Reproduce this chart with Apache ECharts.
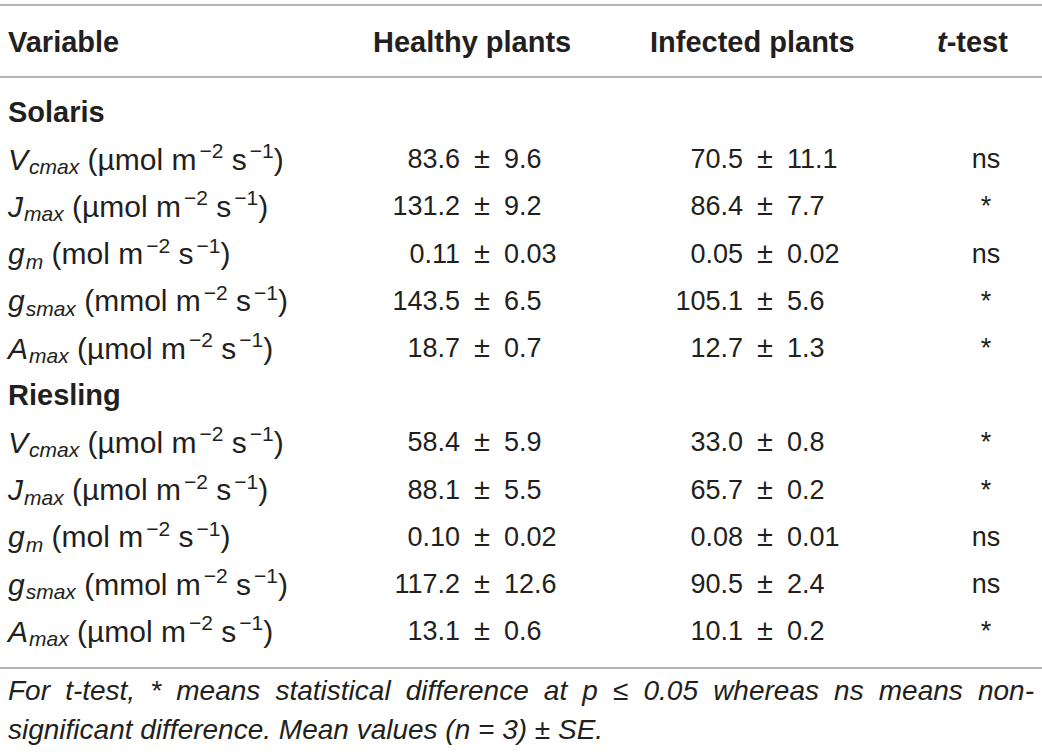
<!DOCTYPE html>
<html>
<head>
<meta charset="utf-8">
<script src="https://cdn.jsdelivr.net/npm/echarts@6/dist/echarts.min.js"></script>
<style>
  html, body { margin: 0; background: #fff; }
  #main { width: 1042px; height: 754px; }
</style>
</head>
<body>
<div id="main"></div>
<script>
// table content
const headers = ['Variable', 'Healthy plants', 'Infected plants', 't-test']
const groups = ['Solaris', 'Riesling']
const varSymbols = ['V', 'J', 'g', 'g', 'A']
const varSubs = ['cmax', 'max', 'm', 'smax', 'max']
const varUnits = ['µmol', 'µmol', 'mol', 'mmol', 'µmol']
const decimals = [1, 1, 2, 1, 1]

const healthySolarisMean = [83.6, 131.2, 0.11, 143.5, 18.7]
const healthySolarisSE = [9.6, 9.2, 0.03, 6.5, 0.7]
const infectedSolarisMean = [70.5, 86.4, 0.05, 105.1, 12.7]
const infectedSolarisSE = [11.1, 7.7, 0.02, 5.6, 1.3]
const tTestSolaris = ['ns', '*', 'ns', '*', '*']

const healthyRieslingMean = [58.4, 88.1, 0.10, 117.2, 13.1]
const healthyRieslingSE = [5.9, 5.5, 0.02, 12.6, 0.6]
const infectedRieslingMean = [33.0, 65.7, 0.08, 90.5, 10.1]
const infectedRieslingSE = [0.8, 0.2, 0.01, 2.4, 0.2]
const tTestRiesling = ['*', '*', 'ns', 'ns', '*']

const footnote = [
  'For t-test, * means statistical difference at p \u2264 0.05 whereas ns means non-',
  'significant difference. Mean values (n = 3) \u00b1 SE.',
]

// layout
const W = 1042, H = 754
const ROW0 = 112, ROW_H = 47.2
const COL = { label: 8, healthy: 482, infected: 765, ttest: 986 }
const PM_GAP = 22
const INK = '#231f20'
const RULE = '#9b9b9b'
const FAM = '"Liberation Sans", Arial, Helvetica, sans-serif'
const font = (size, pre = '') => `${pre} ${size}px ${FAM}`.trim()
const NOTE_FONT = font(28, 'italic')
const HEAD_FONT = font(29, 'bold')

const sets = {
  Solaris: [healthySolarisMean, healthySolarisSE, infectedSolarisMean, infectedSolarisSE, tTestSolaris],
  Riesling: [healthyRieslingMean, healthyRieslingSE, infectedRieslingMean, infectedRieslingSE, tTestRiesling],
}

const rows = []
for (const g of groups) {
  rows.push({ type: 'group', name: g })
  const [hm, hs, im, is, tt] = sets[g]
  varSymbols.forEach((sym, k) => {
    rows.push({
      type: 'var', k,
      healthy: [hm[k], hs[k]],
      infected: [im[k], is[k]],
      ttest: tt[k],
    })
  })
}

const labelRich = {
  it: { font: font(30, 'italic'), fill: INK },
  sub: { font: font(21, 'italic'), fill: INK, padding: [15, 0, 0, 1] },
  sup: { font: font(21), fill: INK, padding: [0, 0, 17, 3] },
  n: { font: font(30), fill: INK },
}

function varLabel(k) {
  return `{it|${varSymbols[k]}}{sub|${varSubs[k]}}{n| (${varUnits[k]} m}{sup|\u22122}{n| s}{sup|\u22121}{n|)}`
}

function txt(x, y, text, align, f) {
  return { type: 'text', style: { x, y, text, align, verticalAlign: 'middle', font: f || font(27), fill: INK } }
}

function pmCell(x, y, pair, d) {
  return [
    txt(x - PM_GAP, y, pair[0].toFixed(d), 'right'),
    txt(x, y - 1, '\u00b1', 'center', font(29)),
    txt(x + PM_GAP, y, pair[1].toFixed(d), 'left'),
  ]
}

function renderItem(params, api) {
  const row = rows[params.dataIndex]
  const i = api.value(1)
  const y = api.coord([0, i])[1]
  const xAt = v => api.coord([v, i])[0]
  if (row.type === 'group') {
    return txt(xAt(COL.label), y, row.name, 'left', HEAD_FONT)
  }
  const d = decimals[row.k]
  const children = [
    {
      type: 'text',
      style: {
        x: xAt(COL.label), y, text: varLabel(row.k), align: 'left', verticalAlign: 'middle',
        font: font(30), fill: INK, rich: labelRich,
      },
    },
    ...pmCell(xAt(COL.healthy), y, row.healthy, d),
    ...pmCell(xAt(COL.infected), y, row.infected, d),
    txt(xAt(COL.ttest), y, row.ttest, 'center'),
  ]
  return { type: 'group', children }
}

const pxToRow = px => (px - ROW0) / ROW_H

// justified footnote line: one text per word, spread between left and right
const measureCtx = document.createElement('canvas').getContext('2d')
function justified(line, left, right, y) {
  measureCtx.font = NOTE_FONT
  const words = line.split(' ')
  const widths = words.map(w => measureCtx.measureText(w).width)
  const gap = (right - left - widths.reduce((a, b) => a + b, 0)) / (words.length - 1)
  let x = left
  return words.map((w, j) => {
    const el = {
      type: 'text', x, y,
      style: { text: w, font: NOTE_FONT, fill: INK, verticalAlign: 'middle' },
    }
    x += widths[j] + gap
    return el
  })
}

const chart = echarts.init(document.getElementById('main'), null, { renderer: 'svg' })

const rule = y => ({
  type: 'line', shape: { x1: 0, y1: y, x2: W, y2: y },
  style: { stroke: RULE, lineWidth: 1.5 }, silent: true,
})
const headText = (x, text) => ({
  type: 'text', x, y: 42,
  style: {
    text, font: HEAD_FONT, fill: INK, verticalAlign: 'middle',
    rich: {
      b: { font: HEAD_FONT, fill: INK },
      bi: { font: font(29, 'italic bold'), fill: INK },
    },
  },
})

chart.setOption({
  animation: false,
  backgroundColor: '#fff',
  grid: { left: 0, right: 0, top: 0, bottom: 0 },
  xAxis: { type: 'value', min: 0, max: W, show: false },
  yAxis: { type: 'value', inverse: true, min: pxToRow(0), max: pxToRow(H), show: false },
  series: [{
    type: 'custom',
    coordinateSystem: 'cartesian2d',
    clip: false,
    silent: true,
    renderItem,
    data: rows.map((r, i) => [0, i]),
    encode: { x: 0, y: 1 },
  }],
  graphic: [
    rule(5),
    rule(77),
    rule(668),
    headText(8, headers[0]),
    headText(373, headers[1]),
    headText(650, headers[2]),
    headText(937, '{bi|t}{b|' + headers[3].slice(1) + '}'),
    ...justified(footnote[0], 8, 1034, 690),
    {
      type: 'text', x: 8, y: 729,
      style: { text: footnote[1], font: NOTE_FONT, fill: INK, verticalAlign: 'middle' },
    },
  ],
})
</script>
</body>
</html>
